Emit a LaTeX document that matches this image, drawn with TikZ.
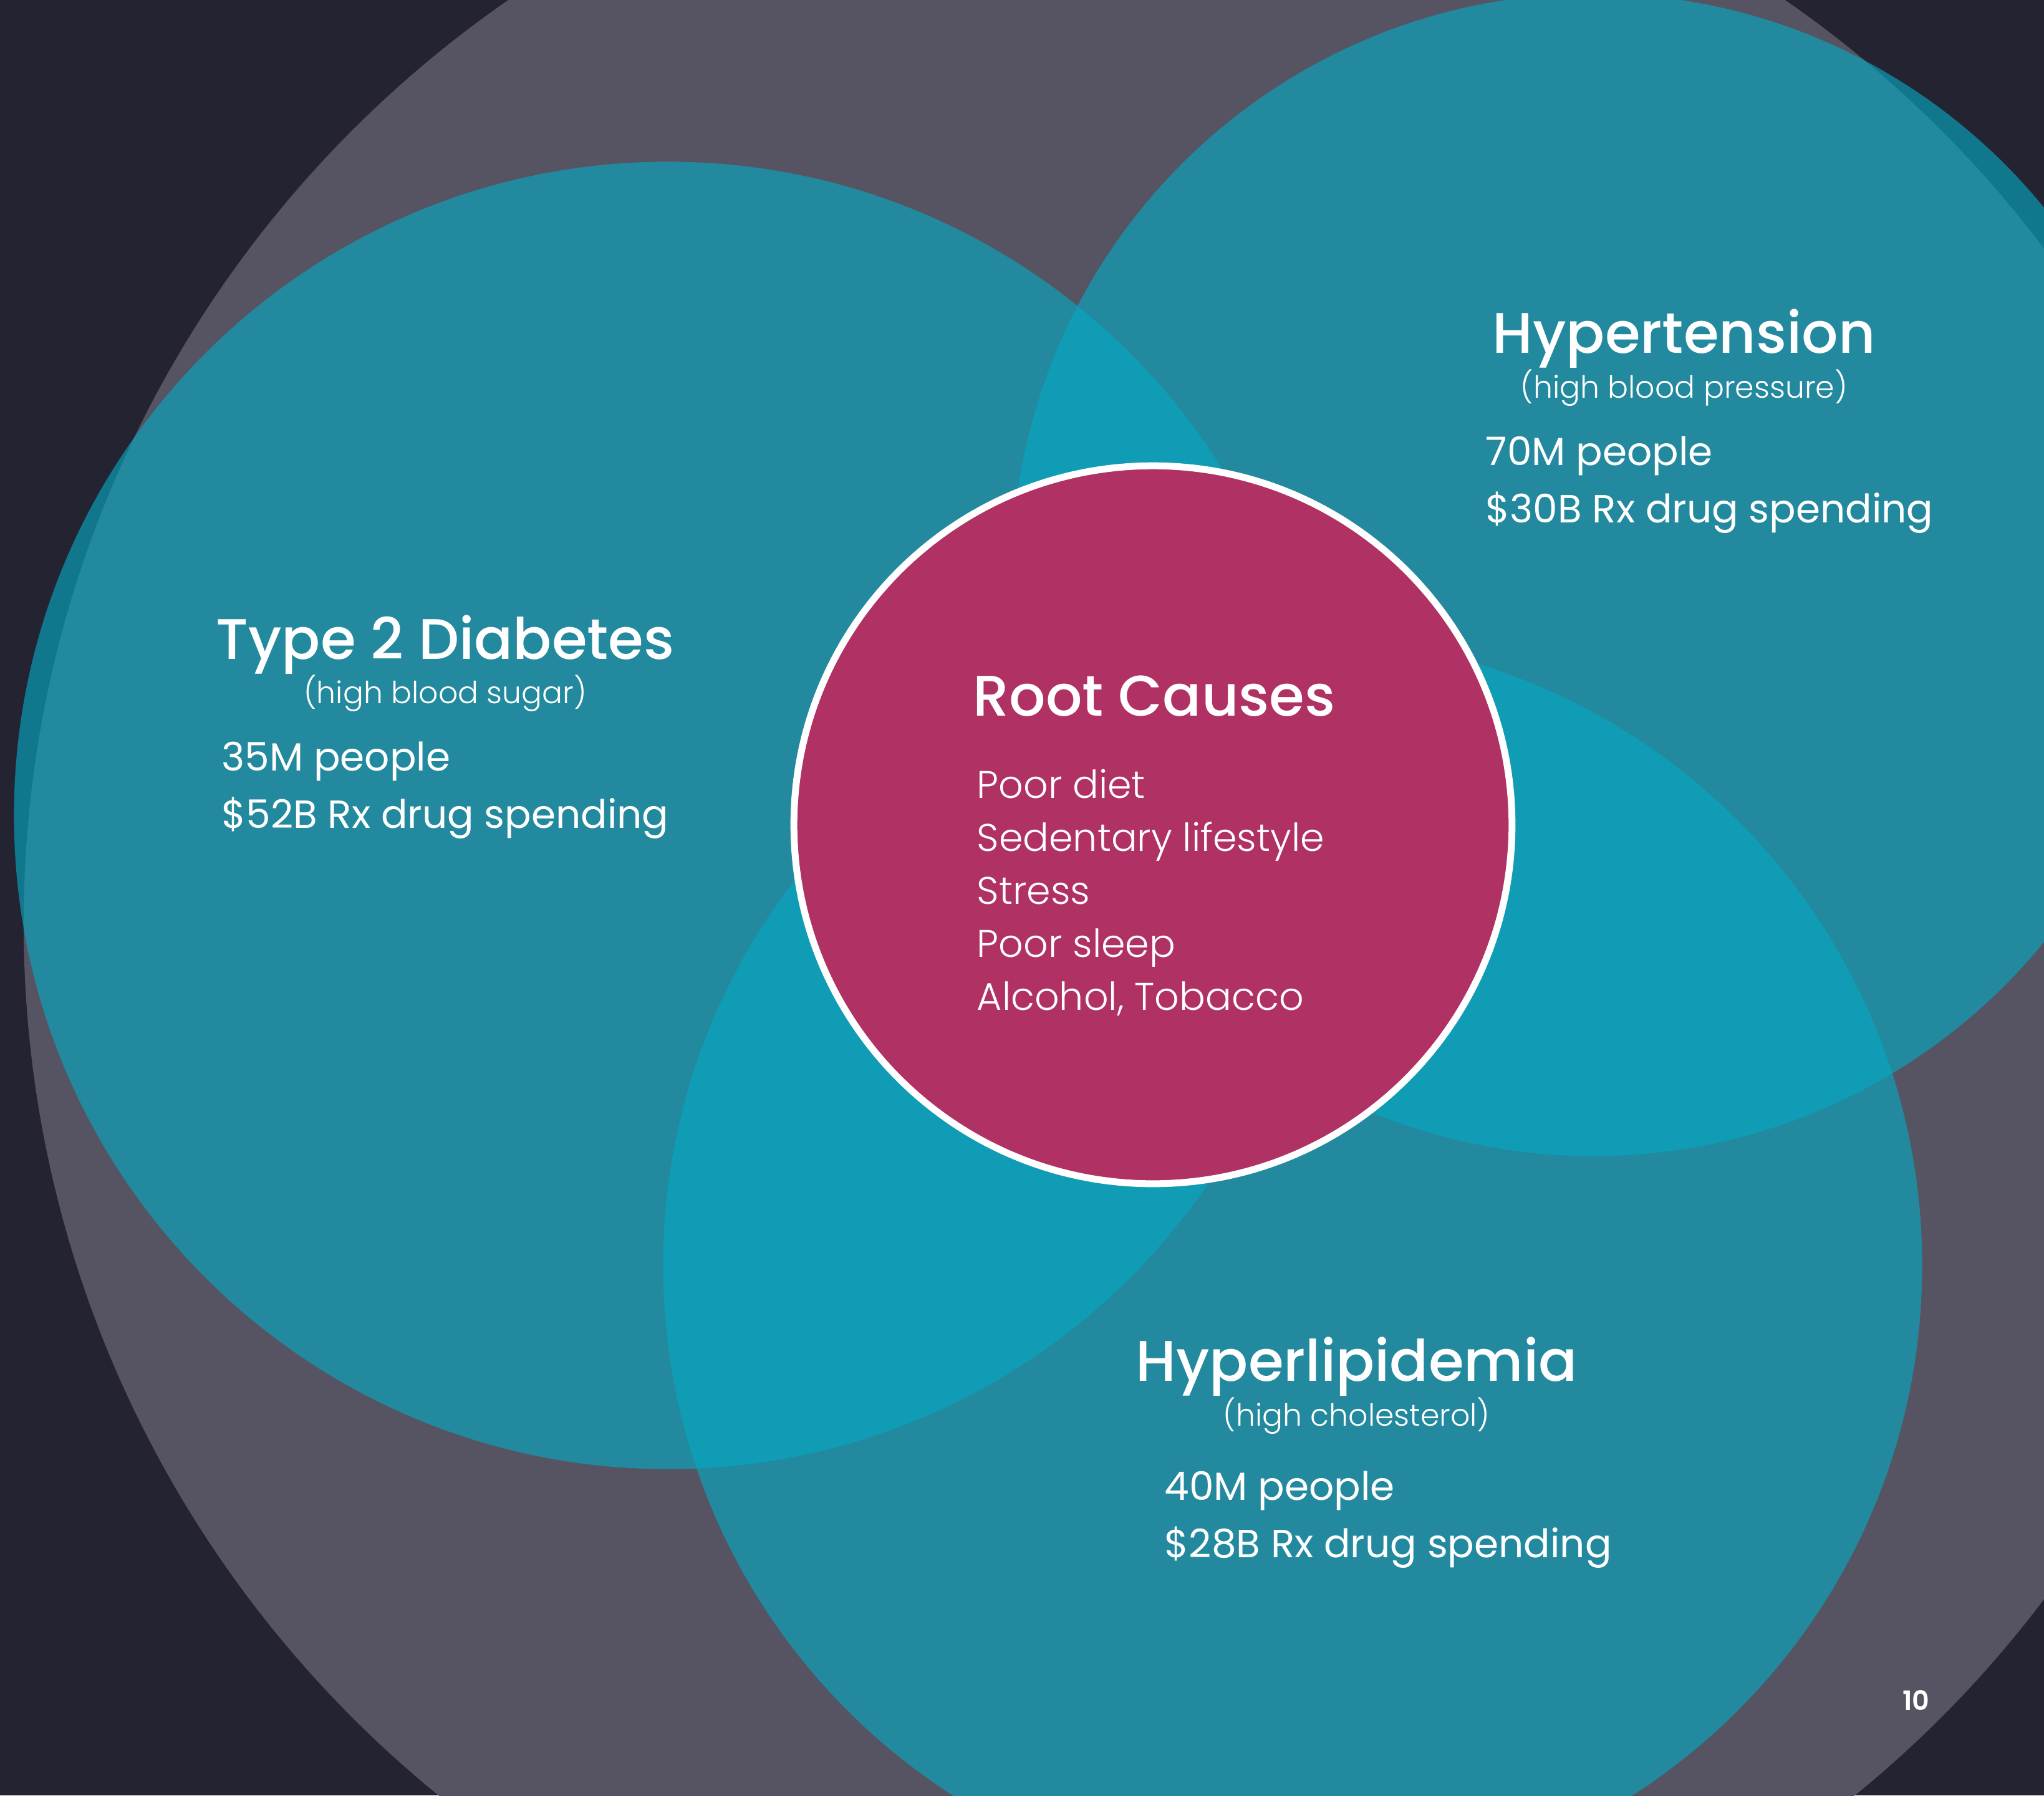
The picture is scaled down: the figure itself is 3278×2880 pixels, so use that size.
\documentclass[tikz,border=0pt]{standalone}
\usepackage{fontspec}
\setmainfont{Poppins}
\newfontfamily\poplight{Poppins Light}
\newfontfamily\popmed{Poppins Medium}
\newfontfamily\popsemi{Poppins SemiBold}
\usetikzlibrary{calc}
\definecolor{navy}{RGB}{36,35,50}
\definecolor{slate}{RGB}{86,84,98}
\definecolor{ringteal}{RGB}{5,167,193}
\definecolor{rootred}{RGB}{176,49,99}

\begin{document}
\begin{tikzpicture}[x=0.01cm,y=-0.01cm,
  disease/.style={fill=ringteal, fill opacity=0.64},
  title/.style={anchor=base west, inner sep=0, text=white,
    font=\popmed\fontsize{26.1}{29}\selectfont},
  sub/.style={anchor=base, inner sep=0, text=white,
    font=\poplight\fontsize{13.9}{16}\selectfont},
  stat/.style={anchor=base west, inner sep=0, text=white,
    font=\fontsize{17.9}{20}\selectfont},
  cause/.style={anchor=base west, inner sep=0, text=white,
    font=\poplight\fontsize{17.6}{20}\selectfont},
  pagenum/.style={anchor=base east, inner sep=0, text=white,
    font=\popsemi\fontsize{12.2}{14}\selectfont}]

\useasboundingbox (0,0) rectangle (3278,2880);
\clip (0,0) rectangle (3278,2880);
\fill[navy] (0,0) rectangle (3278,2880);

% large backdrop disc
\fill[slate] (1839,1482) circle[radius=18cm];

% the three conditions
\fill[disease] (1071,1308) circle[radius=10.48cm];
\fill[disease] (2555,922) circle[radius=9.32cm];
\fill[disease] (2073,2030) circle[radius=10.09cm];

% shared root causes in the middle
\filldraw[fill=rootred, draw=white, line width=0.11cm] (1849,1323) circle[radius=5.755cm];

% Type 2 Diabetes
\node[title] (diab) at (346,1057) {Type 2 Diabetes};
\node[sub] (diabsub) at ($(diab.base)+(0,71)$) {(high blood sugar)};
\node[stat] (diabppl) at (355,1236) {35M people};
\node[stat] (diabrx) at (355,1328) {\$52B Rx drug spending};

% Hypertension
\node[title] (hyper) at (2393,566) {Hypertension};
\node[sub] (hypersub) at ($(hyper.base)+(0,72)$) {(high blood pressure)};
\node[stat] (hyperppl) at (2382,746) {70M people};
\node[stat] (hyperrx) at (2382,838) {\$30B Rx drug spending};

% Hyperlipidemia
\node[title] (lipid) at (1821,2215) {Hyperlipidemia};
\node[sub] (lipidsub) at ($(lipid.base)+(0,72)$) {(high cholesterol)};
\node[stat] (lipidppl) at (1867,2406) {40M people};
\node[stat] (lipidrx) at (1867,2498) {\$28B Rx drug spending};

% Root causes
\node[title] (root) at (1560,1148) {Root Causes};
\node[cause] (c1) at (1566,1280) {Poor diet};
\node[cause] (c2) at (1566,1365) {Sedentary lifestyle};
\node[cause] (c3) at (1566,1450) {Stress};
\node[cause] (c4) at (1566,1535) {Poor sleep};
\node[cause] (c5) at (1566,1620) {Alcohol, Tobacco};

\node[pagenum] (page) at (3095,2743) {10};
\end{tikzpicture}
\end{document}
